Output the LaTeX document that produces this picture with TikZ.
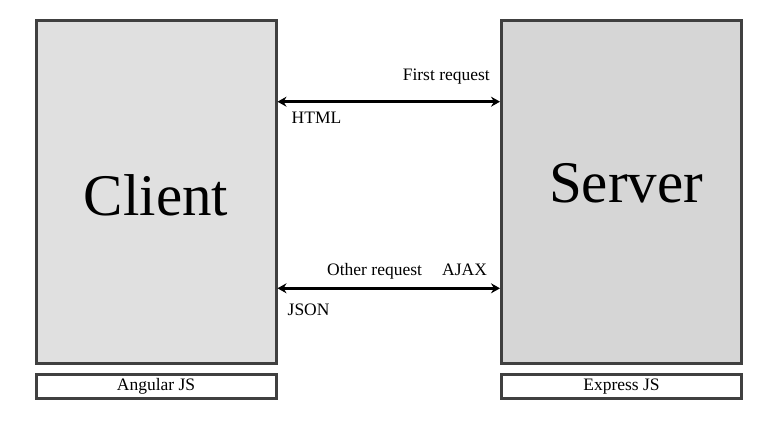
\documentclass[tikz,border=0pt]{standalone}
\usepackage{fontspec}
\setmainfont{Liberation Serif}
\usetikzlibrary{arrows.meta, positioning, calc}
\definecolor{BoxBorder}{RGB}{64, 64, 64}
\definecolor{ClientGrey}{RGB}{224, 224, 224}
\definecolor{ServerGrey}{RGB}{214, 214, 214}

\begin{document}
\begin{tikzpicture}[
    x=1pt, y=1pt,
    % --- STYLES ---
    % Base: dark grey border
    base/.style={
        draw=BoxBorder,
        line width=3pt,
        rectangle,
        inner sep=0pt,
        minimum width=240pt
    },
    % Tier: big grey block
    tier/.style={
        base,
        minimum height=342pt
    },
    % Tech: small white strip below a tier
    tech/.style={
        base,
        minimum height=24pt,
        fill=white,
        font=\fontsize{17.5}{20}\selectfont
    },
    % Big titles
    title/.style={
        anchor=base,
        inner sep=0pt,
        font=\fontsize{59}{66}\selectfont
    },
    % Small labels on the links
    tag/.style={
        inner sep=0pt,
        font=\fontsize{17.5}{20}\selectfont
    },
    % Arrows: both ends
    link/.style={
        line width=3.2pt,
        black,
        {Stealth[length=9pt, width=10pt, inset=3pt]}-{Stealth[length=9pt, width=10pt, inset=3pt]}
    }
]

\useasboundingbox (0,0) rectangle (781,-422);

% --- 1. TIERS ---
\node (client) [tier, fill=ClientGrey] at (156,-192) {};
\node (server) [tier, fill=ServerGrey] at (621.5,-192) {};

\node (clienttitle) [title] at (156,-215) {Client};
\node (servertitle) [title] at (626,-203) {Server};

% --- 2. TECH STRIPS ---
\node (angular) [tech] at (156,-386.5) {Angular JS};
\node (express) [tech] at (621.5,-386.5) {Express JS};

% --- CONNECTIONS ---
\draw [link] ([yshift=90.3pt]client.east) -- ([yshift=90.3pt]server.west);
\draw [link] ([yshift=-96.3pt]client.east) -- ([yshift=-96.3pt]server.west);

% --- LABELS ---
\node (first) [tag, anchor=base east] at (490,-80.7) {First request};
\node (html) [tag, anchor=base west] at (291.5,-124) {HTML};
\node (other) [tag, anchor=base west] at (327,-275.7) {Other request};
\node (ajax) [tag, anchor=base west] at (442,-275.7) {AJAX};
\node (json) [tag, anchor=base west] at (287.5,-315) {JSON};

\end{tikzpicture}
\end{document}
